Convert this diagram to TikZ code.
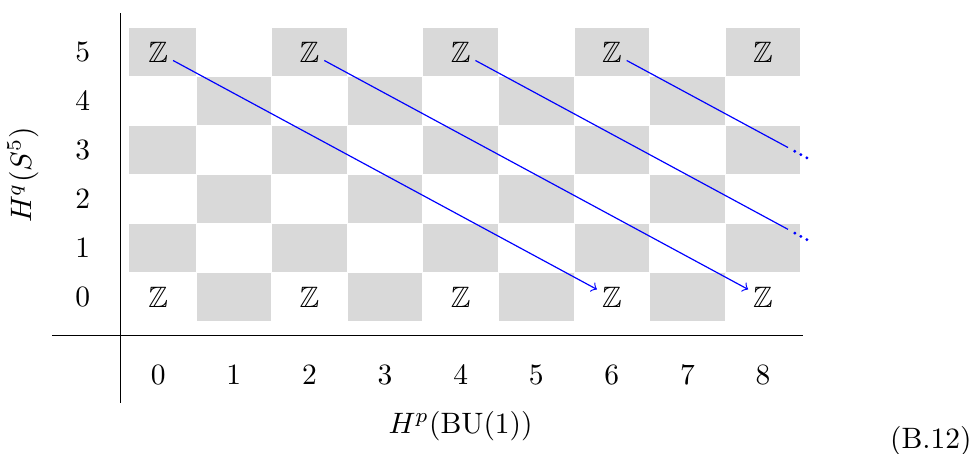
\documentclass[tikz,border=0pt]{standalone}
\usepackage{amssymb}
\begin{document}
\begin{tikzpicture}[x=25.63pt,y=16.61pt,
        cell/.style={fill=black!15},
        zz/.style={inner sep=1.5pt},
        diff/.style={->,blue}]
            \useasboundingbox (-2.093,-3.194) rectangle (10.83,6.071);
            % checkerboard
            \foreach \p in {0,...,8}
                \foreach \q in {0,...,5}
                    {\pgfmathtruncatemacro{\s}{\p+\q}
                    \pgfmathsetmacro{\l}{max(\p-0.5,-0.4)}
                    \ifodd\s
                        \fill [cell] (\l+0.007,\q-0.49) rectangle (\p+0.493,\q+0.49);
                    \fi}
            \draw (-0.5,-2.153) -- (-0.5,5.806);
            \draw (-1.4,-0.776) -- (8.53,-0.776);
            \foreach \q in {0,...,5}
                \node (q\q) at (-1,\q) {$\q$};
            \foreach \p in {0,...,8}
                \node (p\p) at (\p,-1.58) {$\p$};
            \foreach \p in {0,2,...,8}
                {\node [zz] (z\p-5) at (\p,5) {$\mathbb{Z}$};
                \node [zz] (z\p-0) at (\p,0) {$\mathbb{Z}$};}
            \node [rotate=90] (ylab) at (-1.79,2.5) {$H^q(S^5)$};
            \node (xlab) at (4,-2.62) {$H^p(\mathrm{BU}(1))$};
            \node (eqno) at (10.22,-2.93) {(B.12)};

            \coordinate (e4) at (8.33,1.39);
            \coordinate (e6) at (8.33,3.06);
            \draw [diff] (z0-5) -- (z6-0);
            \draw [diff] (z2-5) -- (z8-0);
            \draw [blue] (z4-5) -- (e4);
            \draw [blue] (z6-5) -- (e6);
            \foreach \d in {1,2,3}
                {\fill [blue] (e4) ++(0.08*\d+0.01,-0.067*\d-0.01) circle (0.55pt);
                \fill [blue] (e6) ++(0.08*\d+0.01,-0.067*\d-0.01) circle (0.55pt);}
\end{tikzpicture}
\end{document}
